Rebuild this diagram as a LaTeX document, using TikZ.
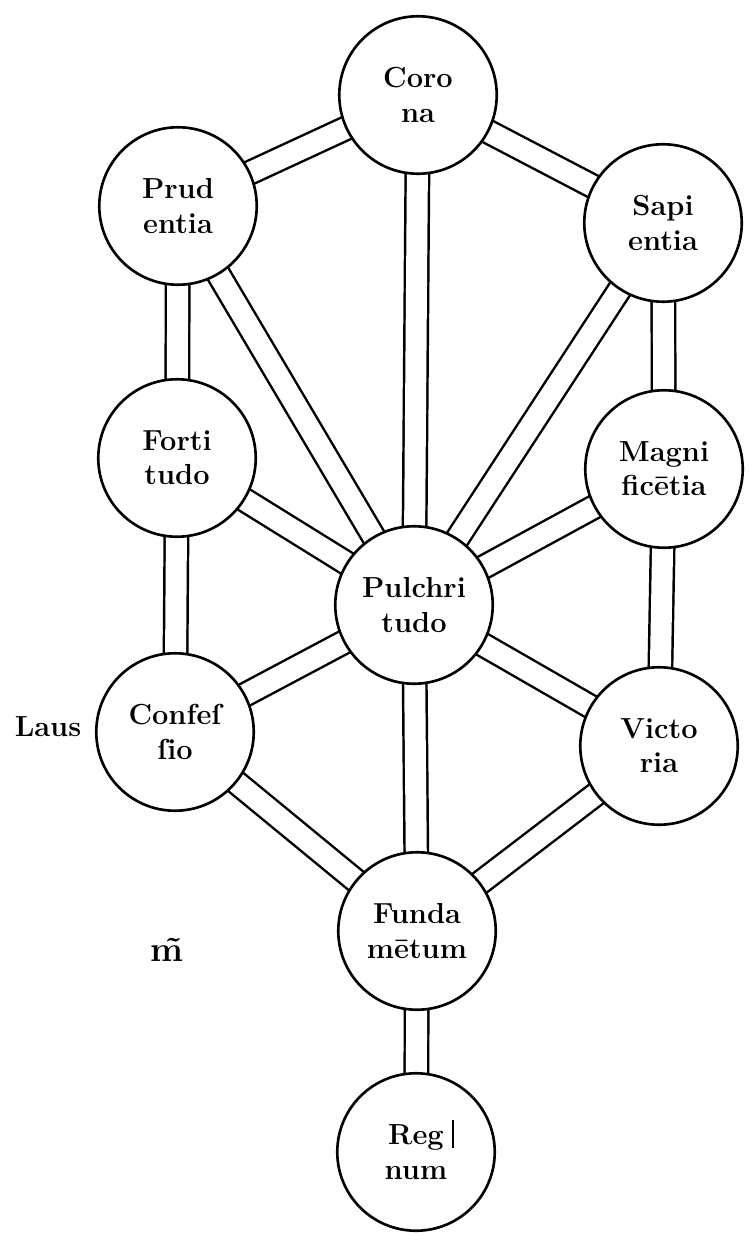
\documentclass[tikz,border=0pt]{standalone}
\usetikzlibrary{backgrounds}

\begin{document}
\begin{tikzpicture}[x=0.02cm, y=-0.02cm,
    sefira/.style={circle, draw, line width=1.5pt, fill=white, minimum size=3.15cm,
        inner sep=0pt, align=center, font=\fontsize{16.5}{19.5}\selectfont\bfseries},
    bar/.style={double distance=0.42cm, line width=1.4pt}]

    \useasboundingbox (0,0) rectangle (749,1236);

    \node[sefira] (corona) at (418,95) {Coro\\na};
    \node[sefira] (prudentia) at (178,206) {Prud\\entia};
    \node[sefira] (sapientia) at (663,223) {Sapi\\entia};
    \node[sefira] (fortitudo) at (177,458) {Forti\\tudo};
    \node[sefira] (magnificentia) at (664,469) {Magni\\ficētia};
    \node[sefira] (pulchritudo) at (414,605) {Pulchri\\tudo};
    \node[sefira] (confessio) at (175,732) {Confeſ\\ſio};
    \node[sefira] (victoria) at (659,746) {Victo\\ria};
    \node[sefira] (fundamentum) at (417,931) {Funda\\mētum};
    \node[sefira] (regnum) at (416,1152) {Reg\\num};

    \node[font=\fontsize{16.5}{19.5}\selectfont\bfseries] (laus) at (48,727) {Laus};
    \node[font=\fontsize{20}{22}\selectfont\bfseries] (mark) at (167,950) {\~{m}};
    \draw[line width=0.6pt] (453,1120) -- (453,1148);

    \begin{pgfonlayer}{background}
    \foreach \a/\b in {corona/prudentia, corona/sapientia, corona/pulchritudo,
        prudentia/fortitudo, prudentia/pulchritudo, sapientia/magnificentia,
        sapientia/pulchritudo, fortitudo/pulchritudo, magnificentia/pulchritudo,
        fortitudo/confessio, magnificentia/victoria, pulchritudo/confessio,
        pulchritudo/victoria, pulchritudo/fundamentum, confessio/fundamentum,
        victoria/fundamentum, fundamentum/regnum}
    \draw[bar] (\a.center) -- (\b.center);
    \end{pgfonlayer}
\end{tikzpicture}
\end{document}
